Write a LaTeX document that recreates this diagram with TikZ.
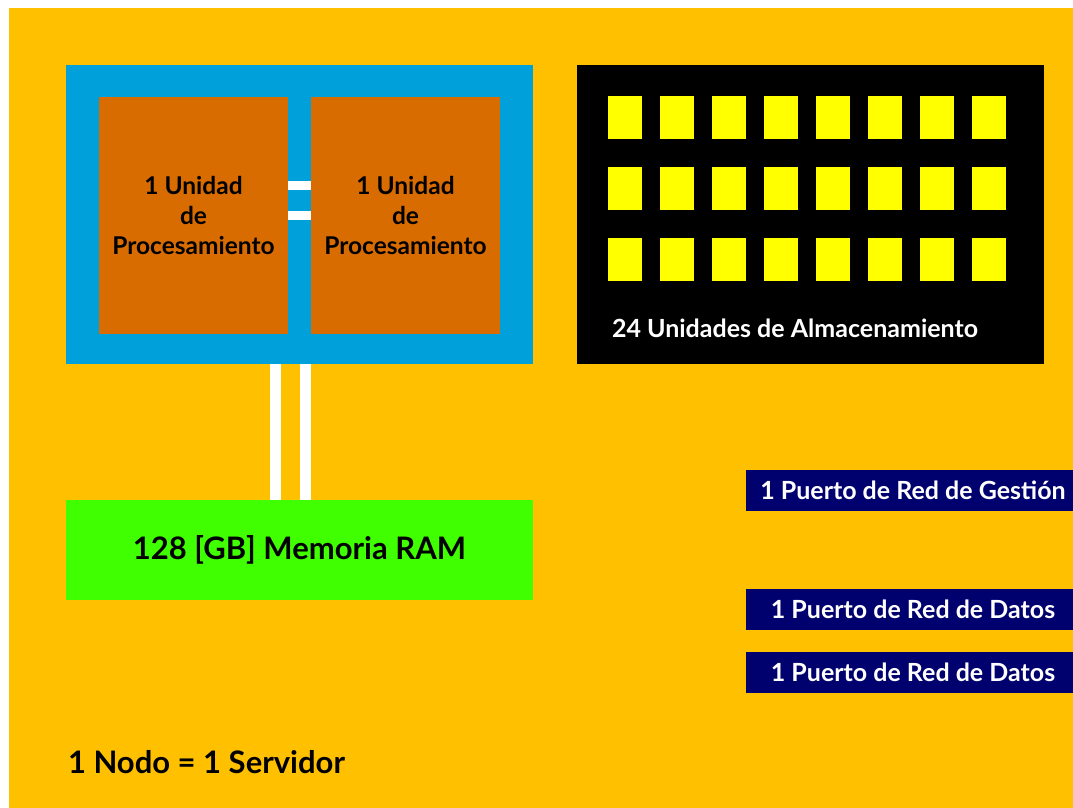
\documentclass[tikz,border=0pt]{standalone}
\usepackage{fontspec}
\setmainfont{Lato}
\usetikzlibrary{positioning}

\definecolor{fondo}{HTML}{FFC000}
\definecolor{azul}{HTML}{00A0DA}
\definecolor{naranja}{HTML}{D96C00}
\definecolor{verde}{HTML}{40FF00}
\definecolor{amarillo}{HTML}{FFFF00}
\definecolor{marino}{HTML}{00006E}

\tikzset{
  caja/.style={inner sep=0pt, outer sep=0pt},
  unidad/.style={caja, fill=naranja, minimum width=189pt, minimum height=237pt,
    align=center, font=\bfseries\fontsize{24.5}{30}\selectfont},
  hueco/.style={caja, fill=amarillo, minimum width=34pt, minimum height=43pt},
  puerto/.style={caja, fill=marino, text=white, minimum width=334pt, minimum height=41pt,
    font=\bfseries\fontsize{25}{28}\selectfont},
  enlace/.style={white, line width=9pt},
  bus/.style={white, line width=11pt},
  node distance=18pt
}

\begin{document}
\begin{tikzpicture}[x=1pt,y=-1pt]
  \useasboundingbox (0,0) rectangle (1073,808);
  \fill[fondo] (9,8) rectangle (1073,808);

  % procesamiento
  \node[caja, fill=azul, minimum width=467pt, minimum height=299pt, anchor=north west] (cpu) at (66,65) {};
  \node[unidad, anchor=north west] (u1) at (99,97) {1 Unidad\\de\\Procesamiento};
  \node[unidad, right=23pt of u1] (u2) {1 Unidad\\de\\Procesamiento};
  \draw[enlace] ([yshift=30pt]u1.east) -- ([yshift=30pt]u2.west);
  \draw[enlace] (u1.east) -- (u2.west);

  % memoria
  \node[caja, fill=verde, minimum width=467pt, minimum height=100pt, below=136pt of cpu,
    font=\bfseries\fontsize{31}{34}\selectfont] (ram) {128 [GB] Memoria RAM};
  \draw[bus] ([xshift=-24pt]cpu.south) -- ([xshift=-24pt]ram.north);
  \draw[bus] ([xshift=6pt]cpu.south) -- ([xshift=6pt]ram.north);

  % almacenamiento
  \node[caja, fill=black, minimum width=467pt, minimum height=299pt, right=44pt of cpu] (disco) {};
  \node[hueco, anchor=north west] (s11) at (608,96) {};
  \node[hueco, right=of s11] (s12) {};
  \node[hueco, right=of s12] (s13) {};
  \node[hueco, right=of s13] (s14) {};
  \node[hueco, right=of s14] (s15) {};
  \node[hueco, right=of s15] (s16) {};
  \node[hueco, right=of s16] (s17) {};
  \node[hueco, right=of s17] (s18) {};
  \node[hueco, below=28pt of s11] (s21) {};
  \node[hueco, right=of s21] (s22) {};
  \node[hueco, right=of s22] (s23) {};
  \node[hueco, right=of s23] (s24) {};
  \node[hueco, right=of s24] (s25) {};
  \node[hueco, right=of s25] (s26) {};
  \node[hueco, right=of s26] (s27) {};
  \node[hueco, right=of s27] (s28) {};
  \node[hueco, below=28pt of s21] (s31) {};
  \node[hueco, right=of s31] (s32) {};
  \node[hueco, right=of s32] (s33) {};
  \node[hueco, right=of s33] (s34) {};
  \node[hueco, right=of s34] (s35) {};
  \node[hueco, right=of s35] (s36) {};
  \node[hueco, right=of s36] (s37) {};
  \node[hueco, right=of s37] (s38) {};
  \node[caja, anchor=west, text=white, font=\bfseries\fontsize{25}{28}\selectfont] (txtdisco) at (612,328)
    {24 Unidades de Almacenamiento};

  % red
  \node[puerto, anchor=north west] (p1) at (746,470) {1 Puerto de Red de Gestión};
  \node[puerto, below=78pt of p1] (p2) {1 Puerto de Red de Datos};
  \node[puerto, below=22pt of p2] (p3) {1 Puerto de Red de Datos};

  \node[caja, anchor=west, font=\bfseries\fontsize{31}{34}\selectfont] (nodo) at (68,762)
    {1 Nodo = 1 Servidor};
\end{tikzpicture}
\end{document}
